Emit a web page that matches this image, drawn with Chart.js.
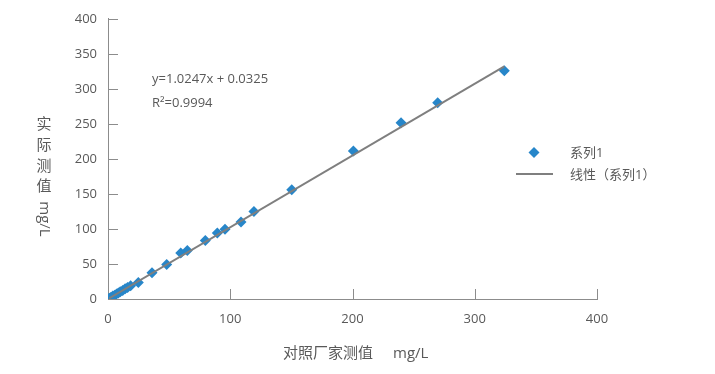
<!DOCTYPE html>
<html>
<head>
<meta charset="utf-8">
<script src="https://cdn.jsdelivr.net/npm/chart.js@4"></script>
<style>
  html, body { margin: 0; padding: 0; background: #fff; }
  #wrap { position: relative; width: 715px; height: 374px; }
</style>
</head>
<body>
<div id="wrap"><canvas id="chart" width="715" height="374"></canvas></div>
<script>
// measured values (对照厂家测值 vs 实际测值)
const refValues = [1, 2.5, 4, 5.5, 7, 8.5, 10, 12, 14, 16, 18.5, 24.8, 36, 48, 59.5, 64.9, 79.6, 89.4, 95.7, 108.8, 119.4, 150.3, 200.7, 239.7, 269.7, 324.2];
const actualValues = [1, 2.6, 4.2, 5.5, 7.3, 8.6, 10.4, 12.2, 14.5, 16.3, 19, 23.6, 37.6, 49.4, 65.6, 69.4, 83.6, 94.2, 99.6, 110, 124.8, 156, 211.1, 251.5, 280, 326];
const xTicks = [0, 100, 200, 300, 400];
const yTicks = [0, 50, 100, 150, 200, 250, 300, 350, 400];

// trend line from the chart's equation
const slope = 1.0247;
const intercept = 0.0325;
const equationText = 'y=1.0247x + 0.0325';
const r2Text = 'R²=0.9994';

const seriesName = '系列1';
const trendName = '线性（系列1）';
const xTitleCJK = '对照厂家测值';
const yTitleCJK = '实际测值';
const unitText = 'mg/L';

const FONT = '"Open Sans", "Noto Sans CJK SC", sans-serif';
const TEXT = '#595959';
const AXIS = '#8c8c8c';
const BLUE = '#2786c9';
const GRAY = '#7f7f7f';

const points = refValues.map((x, i) => ({ x: x, y: actualValues[i] }));
const xMin = Math.min(...refValues);
const xMax = Math.max(...refValues);
const trendPoints = [
    { x: xMin, y: slope * xMin + intercept },
    { x: xMax, y: slope * xMax + intercept }
];

// tick marks pointing into the plot, plus the extra texts
const decorPlugin = {
    id: 'decor',
    afterDraw(chart) {
        const ctx = chart.ctx;
        const area = chart.chartArea;
        const xs = chart.scales.x;
        const ys = chart.scales.y;
        ctx.save();
        ctx.strokeStyle = AXIS;
        ctx.lineWidth = 1;
        ctx.beginPath();
        yTicks.forEach(v => {
            if (v === 0) return;
            const y = Math.round(ys.getPixelForValue(v)) + 0.5;
            ctx.moveTo(area.left, y);
            ctx.lineTo(area.left + 10, y);
        });
        xTicks.forEach(v => {
            if (v === 0) return;
            const x = Math.round(xs.getPixelForValue(v)) + 0.5;
            ctx.moveTo(x, area.bottom);
            ctx.lineTo(x, area.bottom - 10);
        });
        ctx.stroke();

        ctx.fillStyle = TEXT;
        // equation
        ctx.font = '13px ' + FONT;
        ctx.textAlign = 'left';
        ctx.textBaseline = 'middle';
        ctx.fillText(equationText, 152, 79);
        ctx.fillText(r2Text, 152, 103);

        // x title
        ctx.font = '15px ' + FONT;
        ctx.textAlign = 'left';
        ctx.fillText(xTitleCJK, 283, 354);
        ctx.fillText(unitText, 393, 354);

        // y title: upright CJK stacked, unit rotated
        ctx.textAlign = 'center';
        const cx = 44;
        [...yTitleCJK].forEach((ch, i) => {
            ctx.fillText(ch, cx, 125 + i * 20.7);
        });
        ctx.save();
        ctx.translate(cx, 219);
        ctx.rotate(Math.PI / 2);
        ctx.fillText(unitText, 0, 0);
        ctx.restore();

        // legend
        ctx.fillStyle = BLUE;
        ctx.beginPath();
        ctx.moveTo(534, 147);
        ctx.lineTo(539.5, 152.5);
        ctx.lineTo(534, 158);
        ctx.lineTo(528.5, 152.5);
        ctx.closePath();
        ctx.fill();
        ctx.strokeStyle = GRAY;
        ctx.lineWidth = 2;
        ctx.beginPath();
        ctx.moveTo(516, 174);
        ctx.lineTo(553, 174);
        ctx.stroke();
        ctx.fillStyle = TEXT;
        ctx.font = '13px ' + FONT;
        ctx.textAlign = 'left';
        ctx.fillText(seriesName, 570, 153);
        ctx.fillText(trendName, 570, 175);
        ctx.restore();
    }
};

new Chart(document.getElementById('chart'), {
    type: 'scatter',
    data: {
        datasets: [{
            label: seriesName,
            data: points,
            pointStyle: 'rectRot',
            pointRadius: 5.5,
            pointHoverRadius: 5.5,
            backgroundColor: BLUE,
            borderColor: BLUE,
            borderWidth: 0,
            order: 1
        }, {
            label: trendName,
            data: trendPoints,
            showLine: true,
            pointRadius: 0,
            borderColor: GRAY,
            borderWidth: 2,
            order: 0
        }]
    },
    options: {
        responsive: false,
        animation: false,
        layout: { padding: { top: 18, right: 118, left: 0, bottom: 0 } },
        plugins: {
            legend: { display: false },
            tooltip: { enabled: false }
        },
        scales: {
            x: {
                type: 'linear',
                min: 0,
                max: 400,
                afterFit: s => { s.height = 75; },
                afterBuildTicks: s => { s.ticks = xTicks.map(v => ({ value: v })); },
                border: { display: true, color: AXIS, width: 1 },
                grid: { display: false, drawTicks: false },
                ticks: { padding: 12, color: TEXT, font: { size: 13, family: FONT } }
            },
            y: {
                type: 'linear',
                min: 0,
                max: 400,
                afterFit: s => { s.width = 108; },
                afterBuildTicks: s => { s.ticks = yTicks.map(v => ({ value: v })); },
                border: { display: true, color: AXIS, width: 1 },
                grid: { display: false, drawTicks: false },
                ticks: { padding: 11, color: TEXT, font: { size: 13, family: FONT } }
            }
        }
    },
    plugins: [decorPlugin]
});
</script>
</body>
</html>
